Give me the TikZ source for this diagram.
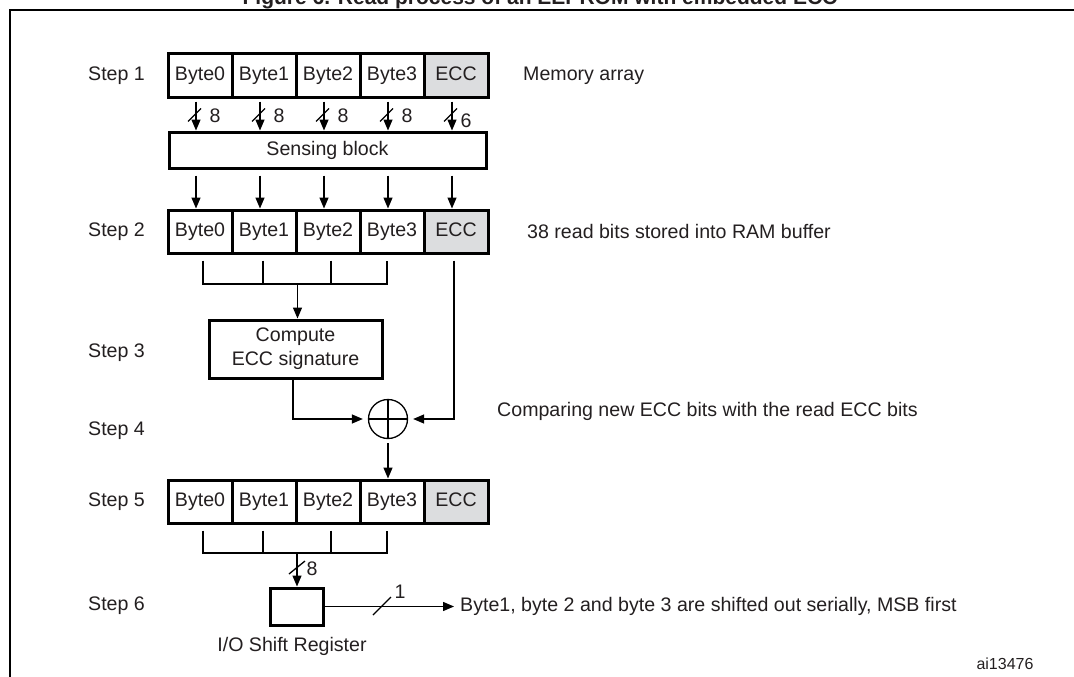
\documentclass[tikz,border=0pt]{standalone}
\usepackage{fontspec}
\setmainfont{Liberation Sans}
\usetikzlibrary{arrows.meta}
\definecolor{txt}{HTML}{231F20}
\definecolor{eccgray}{HTML}{DCDDDF}
\begin{document}
\begin{tikzpicture}[x=1pt,y=-1pt,
  every node/.style={font=\fontsize{19.6}{24}\selectfont, text=txt},
  cell/.style={draw=black, line width=3pt, minimum width=64pt, minimum height=43pt, inner sep=0pt, fill=white, text height=14pt, text depth=4pt},
  ecccell/.style={cell, fill=eccgray},
  blk/.style={draw=black, line width=3pt, inner sep=0pt, fill=white},
  wire/.style={line width=1.3pt, draw=black},
  arr/.style={wire, -{Triangle[length=11pt,width=9pt]}},
  lbl/.style={anchor=west, inner sep=0pt},
  buslbl/.style={inner sep=0pt},
  ]
\useasboundingbox (0,0) rectangle (1074,677);

% frame and clipped title
\node[font=\bfseries\fontsize{21}{24}\selectfont, anchor=base, inner sep=0pt] (title) at (540,5) {Figure 6. Read process of an EEPROM with embedded ECC};
\draw[line width=2.5pt] (10,700) -- (10,10) -- (1100,10);

% step labels
\node[lbl] (s1) at (88,75.5) {Step 1};
\node[lbl] (s2) at (88,231.5) {Step 2};
\node[lbl] (s3) at (88,353) {Step 3};
\node[lbl] (s4) at (88,431) {Step 4};
\node[lbl] (s5) at (88,501.5) {Step 5};
\node[lbl] (s6) at (88,606) {Step 6};

% memory array
\node[cell] (a0) at (200,75.5) {Byte0};
\node[cell] (a1) at (264,75.5) {Byte1};
\node[cell] (a2) at (328,75.5) {Byte2};
\node[cell] (a3) at (392,75.5) {Byte3};
\node[ecccell] (a4) at (456,75.5) {ECC};
\node[lbl] (tmem) at (523,75.5) {Memory array};

% sensing block
\node[blk, minimum width=317pt, minimum height=36pt] (sense) at (327.5,150) {Sensing block};

% RAM buffer
\node[cell] (b0) at (200,231.5) {Byte0};
\node[cell] (b1) at (264,231.5) {Byte1};
\node[cell] (b2) at (328,231.5) {Byte2};
\node[cell] (b3) at (392,231.5) {Byte3};
\node[ecccell] (b4) at (456,231.5) {ECC};
\node[lbl] (tram) at (527,231.5) {38 read bits stored into RAM buffer};

% memory -> sensing -> buffer
\foreach \n/\m in {a0/b0,a1/b1,a2/b2,a3/b3,a4/b4} {
  \draw[arr, shorten <=3pt] ([xshift=-4pt]\n.south) -- ([xshift=-4pt]\n.south |- sense.north);
  \draw[wire] ([xshift=-12pt,yshift=-23pt]\n.south) -- ([xshift=1pt,yshift=-10pt]\n.south);
  \draw[arr, shorten <=6pt] ([xshift=-4pt]\m.north |- sense.south) -- ([xshift=-4pt]\m.north);
}
\node[buslbl] (l0) at ([xshift=15pt,yshift=-17pt]a0.south) {8};
\node[buslbl] (l1) at ([xshift=15pt,yshift=-17pt]a1.south) {8};
\node[buslbl] (l2) at ([xshift=15pt,yshift=-17pt]a2.south) {8};
\node[buslbl] (l3) at ([xshift=15pt,yshift=-17pt]a3.south) {8};
\node[buslbl] (l4) at ([xshift=10pt,yshift=-22pt]a4.south) {6};

% compute ECC
\node[blk, minimum width=173pt, minimum height=58pt, align=center] (comp) at (295.5,349) {Compute\\ECC signature};
\coordinate (jb) at (297.5,284);
\draw[wire] ([xshift=3pt,yshift=-6pt]b0.south) |- ([xshift=-5pt]b3.south |- jb) -- ([xshift=-5pt,yshift=-6pt]b3.south);
\draw[wire] ([xshift=-1pt,yshift=-6pt]b1.south) -- ([xshift=-1pt]b1.south |- jb);
\draw[wire] ([xshift=3pt,yshift=-6pt]b2.south) -- ([xshift=3pt]b2.south |- jb);
\draw[arr] (jb) -- (jb |- comp.north);

% XOR
\node[draw=black, circle, line width=1.3pt, minimum size=39pt, inner sep=0pt] (xor) at (388,419) {};
\draw[wire] (xor.north) -- (xor.south);
\draw[wire] (xor.west) -- (xor.east);
\draw[arr, shorten >=5pt] ([xshift=-2.5pt]comp.south) |- (xor.west);
\draw[arr, shorten >=5pt, shorten <=6pt] ([xshift=-2pt]b4.south) |- (xor.east);
\node[lbl] (tcmp) at (497,411) {Comparing new ECC bits with the read ECC bits};

% corrected buffer
\node[cell] (c0) at (200,501.5) {Byte0};
\node[cell] (c1) at (264,501.5) {Byte1};
\node[cell] (c2) at (328,501.5) {Byte2};
\node[cell] (c3) at (392,501.5) {Byte3};
\node[ecccell] (c4) at (456,501.5) {ECC};
\draw[arr, shorten <=4pt] (xor.south) -- (xor.south |- c3.north);

% shift register
\node[blk, minimum width=53pt, minimum height=37pt] (sr) at (296.5,606.5) {};
\coordinate (jc) at (297,553);
\draw[wire] ([xshift=3pt,yshift=-6pt]c0.south) |- ([xshift=-5pt]c3.south |- jc) -- ([xshift=-5pt,yshift=-6pt]c3.south);
\draw[wire] ([xshift=-1pt,yshift=-6pt]c1.south) -- ([xshift=-1pt]c1.south |- jc);
\draw[wire] ([xshift=3pt,yshift=-6pt]c2.south) -- ([xshift=3pt]c2.south |- jc);
\draw[arr] (jc) -- (jc |- sr.north);
\draw[wire] (289,574) -- (305,561);
\node[buslbl] (l8) at (312,569) {8};

\node[lbl] (tout) at (460,606.5) {Byte1, byte 2 and byte 3 are shifted out serially, MSB first};
\draw[arr, shorten >=6pt] (sr.east) -- (tout.west);
\draw[wire] (373,615) -- (391,597);
\node[buslbl] (l1b) at (400,592) {1};
\node[inner sep=0pt] (tsr) at (292,646) {I/O Shift Register};
\node[inner sep=0pt, font=\fontsize{16}{18}\selectfont] (tid) at (1005,664) {ai13476};
\end{tikzpicture}
\end{document}
